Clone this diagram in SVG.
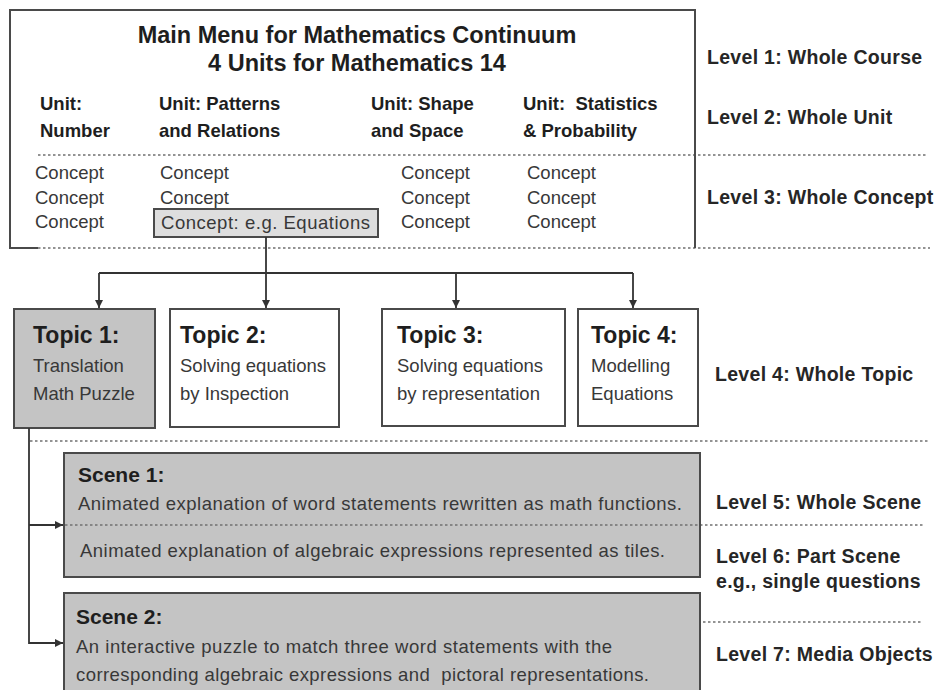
<svg xmlns="http://www.w3.org/2000/svg" width="936" height="690" viewBox="0 0 936 690">
<style>
text{font-family:"Liberation Sans",Arial,sans-serif;fill:#2a2a2a}
.title{font-size:23.5px;font-weight:bold;text-anchor:middle;fill:#1e1e1e}
.unit{font-size:18.5px;font-weight:bold;white-space:pre;fill:#1e1e1e}
.con{font-size:18.5px;fill:#383838}
.lvl{font-size:19.5px;font-weight:bold;letter-spacing:0.3px;fill:#262626}
.th{font-size:23px;font-weight:bold;fill:#1e1e1e}
.sh{font-size:21px;font-weight:bold;fill:#1e1e1e}
.box{stroke:#4a4a4a;stroke-width:2}
.white{fill:#fff}
.gray{fill:#c4c4c4}
.dot{stroke:#707070;stroke-width:1.5;stroke-dasharray:2.5 2.5;fill:none}
.conn{stroke:#333;stroke-width:1.8;fill:none}
</style>
<defs>
<marker id="ah" viewBox="0 0 8 8" refX="8" refY="4" markerWidth="8" markerHeight="8" markerUnits="userSpaceOnUse" orient="auto">
<path d="M0,0 L8,4 L0,8 z" fill="#333"/>
</marker>
</defs>
<rect width="936" height="690" fill="#fff"/>

<g id="levels">
<line class="dot" x1="38" y1="155" x2="928" y2="155"/>
<line class="dot" x1="38" y1="248" x2="930" y2="248"/>
<line class="dot" x1="30" y1="441" x2="930" y2="441"/>
<line class="dot" x1="700" y1="525" x2="923" y2="525"/>
<line class="dot" x1="703" y1="622" x2="923" y2="622"/>
<text class="lvl" x="707" y="64">Level 1: Whole Course</text>
<text class="lvl" x="707" y="124">Level 2: Whole Unit</text>
<text class="lvl" x="707" y="204">Level 3: Whole Concept</text>
<text class="lvl" x="715" y="381">Level 4: Whole Topic</text>
<text class="lvl" x="716" y="509">Level 5: Whole Scene</text>
<text class="lvl" x="716" y="563">Level 6: Part Scene</text>
<text class="lvl" x="716" y="588">e.g., single questions</text>
<text class="lvl" x="716" y="661">Level 7: Media Objects</text>
</g>

<g id="main-menu">
<path d="M10,248 V10 H695 V248" fill="none" class="box"/>
<line x1="9" y1="248" x2="38" y2="248" class="box"/>
<text class="title" x="357" y="43">Main Menu for Mathematics Continuum</text>
<text class="title" x="357" y="71">4 Units for Mathematics 14</text>
<text class="unit" x="40" y="110">Unit:</text>
<text class="unit" x="40" y="137">Number</text>
<text class="unit" x="159" y="110">Unit: Patterns</text>
<text class="unit" x="159" y="137">and Relations</text>
<text class="unit" x="371" y="110">Unit: Shape</text>
<text class="unit" x="371" y="137">and Space</text>
<text class="unit" x="523" y="110">Unit:  Statistics</text>
<text class="unit" x="523" y="137">&amp; Probability</text>
<text class="con" x="35" y="179">Concept</text>
<text class="con" x="35" y="204">Concept</text>
<text class="con" x="35" y="228">Concept</text>
<text class="con" x="160" y="179">Concept</text>
<text class="con" x="160" y="204">Concept</text>
<text class="con" x="401" y="179">Concept</text>
<text class="con" x="401" y="204">Concept</text>
<text class="con" x="401" y="228">Concept</text>
<text class="con" x="527" y="179">Concept</text>
<text class="con" x="527" y="204">Concept</text>
<text class="con" x="527" y="228">Concept</text>
</g>

<g id="concept-equations">
<rect x="154" y="209" width="224" height="28" fill="#dedede" class="box"/>
<text class="con" x="161" y="229" textLength="209">Concept: e.g. Equations</text>
</g>

<g id="topic1">
<rect x="14" y="309" width="141" height="119" class="box gray"/>
<text class="th" x="33" y="343">Topic 1:</text>
<text class="con" x="33" y="372">Translation</text>
<text class="con" x="33" y="400">Math Puzzle</text>
</g>
<g id="topic2">
<rect x="170" y="309" width="169" height="118" class="box white"/>
<text class="th" x="180" y="343">Topic 2:</text>
<text class="con" x="180" y="372">Solving equations</text>
<text class="con" x="180" y="400">by Inspection</text>
</g>
<g id="topic3">
<rect x="382" y="309" width="183" height="117" class="box white"/>
<text class="th" x="397" y="343">Topic 3:</text>
<text class="con" x="397" y="372">Solving equations</text>
<text class="con" x="397" y="400">by representation</text>
</g>
<g id="topic4">
<rect x="578" y="309" width="120" height="117" class="box white"/>
<text class="th" x="591" y="343">Topic 4:</text>
<text class="con" x="591" y="372">Modelling</text>
<text class="con" x="591" y="400">Equations</text>
</g>

<g id="scene1">
<rect x="64" y="453" width="636" height="124" class="box gray"/>
<line class="dot" x1="65" y1="525" x2="700" y2="525"/>
<text class="sh" x="78" y="482">Scene 1:</text>
<text class="con" x="78" y="510" textLength="604">Animated explanation of word statements rewritten as math functions.</text>
<text class="con" x="80" y="557" textLength="585">Animated explanation of algebraic expressions represented as tiles.</text>
</g>
<g id="scene2">
<rect x="64" y="593" width="636" height="110" class="box gray"/>
<text class="sh" x="76" y="624">Scene 2:</text>
<text class="con" x="76" y="653" textLength="536">An interactive puzzle to match three word statements with the</text>
<text class="con" x="76" y="681" textLength="573" style="white-space:pre">corresponding algebraic expressions and  pictoral representations.</text>
</g>

<g id="connectors">
<path class="conn" d="M266,237 V308" marker-end="url(#ah)"/>
<path class="conn" d="M99,273 H633"/>
<path class="conn" d="M99,273 V308" marker-end="url(#ah)"/>
<path class="conn" d="M456,272 V308" marker-end="url(#ah)"/>
<path class="conn" d="M633,273 V308" marker-end="url(#ah)"/>
<path class="conn" d="M29,428 V643 H63" marker-end="url(#ah)"/>
<path class="conn" d="M29,525 H63" marker-end="url(#ah)"/>
</g>
</svg>
